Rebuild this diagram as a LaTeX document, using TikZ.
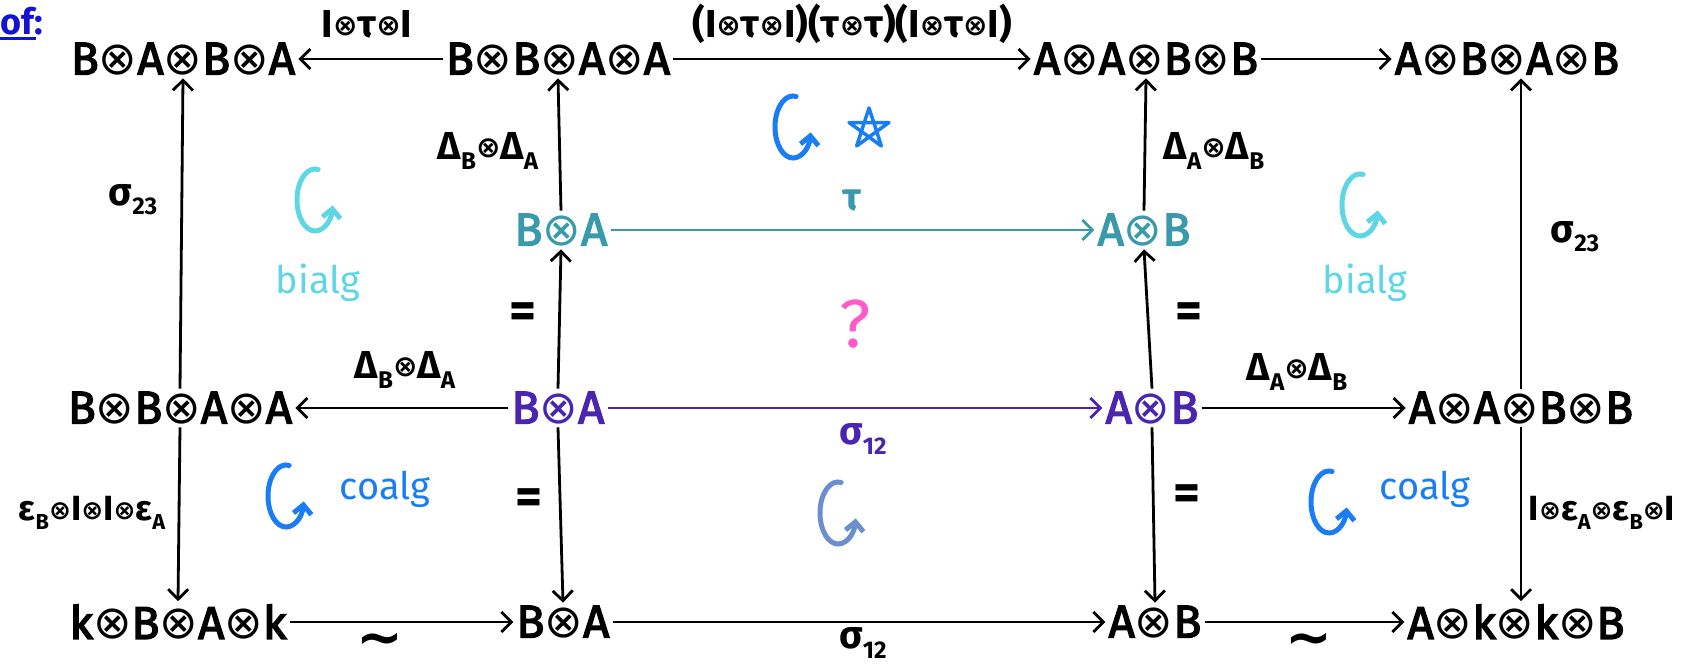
\documentclass[tikz,border=0pt]{standalone}
\usepackage{fontspec}
\setmainfont{Fira Sans}
\newfontfamily\objf{Fira Sans}[FakeBold=3]
\newfontfamily\dvf{DejaVu Sans}
\usetikzlibrary{arrows.meta,calc}
\newcommand{\ox}{{\dvf ⊗}}
\newcommand{\sox}{\raisebox{0.1ex}{\scalebox{0.75}{\dvf ⊗}}}
\newcommand{\lo}[1]{\raisebox{-0.45ex}{\scalebox{0.62}{#1}}}
\definecolor{tealc}{HTML}{3A9AAB}
\definecolor{purp}{HTML}{4A25B0}
\definecolor{cyanc}{HTML}{5ED6E6}
\definecolor{bluec}{HTML}{1A7DF5}
\definecolor{pinkc}{HTML}{FF5AC8}
\definecolor{slatec}{HTML}{6B8ECF}
\definecolor{ofblue}{HTML}{1414D0}
\tikzset{
  obj/.style={font=\objf\fontsize{46}{54}\selectfont, inner sep=3pt},
  lab/.style={font=\fontsize{39}{44}\selectfont\bfseries, inner sep=0pt},
  slab/.style={font=\fontsize{35}{40}\selectfont\bfseries, inner sep=0pt},
  big/.style={font=\fontsize{38}{44}\selectfont, inner sep=0pt},
  arr/.style={line width=2.8pt, -{Straight Barb[length=10pt,width=20pt]}},
  circarr/.style={line width=5pt, line cap=round, -{Straight Barb[length=9pt,width=18pt]}},
  eqs/.style={font=\fontsize{52}{56}\selectfont\bfseries, inner sep=0pt},
  tild/.style={font=\dvf\fontsize{56}{60}\selectfont\bfseries, inner sep=0pt}
}
\newcommand{\rotarrow}[3]{%
  \coordinate (#2) at #3;
  \draw[circarr,#1] ($(#2)+(80:18 and 31)$) arc[start angle=80,end angle=350,x radius=18,y radius=31];
}
\begin{document}
\begin{tikzpicture}[x=1pt,y=1pt]
\useasboundingbox (0,0) rectangle (1692,669);
% objects
\node[obj] (BABA) at (183,610) {B\ox A\ox B\ox A};
\node[obj] (BBAA1) at (558,610) {B\ox B\ox A\ox A};
\node[obj] (AABB1) at (1146,610) {A\ox A\ox B\ox B};
\node[obj] (ABAB) at (1507,610) {A\ox B\ox A\ox B};
\node[obj,text=tealc] (BAt) at (561,439) {B\ox A};
\node[obj,text=tealc] (ABt) at (1144,439) {A\ox B};
\node[obj] (BBAA2) at (180,261) {B\ox B\ox A\ox A};
\node[obj,text=purp] (BAp) at (558,261) {B\ox A};
\node[obj,text=purp] (ABp) at (1152,261) {A\ox B};
\node[obj] (AABB2) at (1521,261) {A\ox A\ox B\ox B};
\node[obj] (kBAk) at (178,47) {k\ox B\ox A\ox k};
\node[obj] (BA4) at (563,47) {B\ox A};
\node[obj] (AB4) at (1155,47) {A\ox B};
\node[obj] (AkkB) at (1516,47) {A\ox k\ox k\ox B};
% horizontal arrows
\draw[arr] (BBAA1) -- (BABA);
\draw[arr] (BBAA1) -- (AABB1);
\draw[arr] (AABB1) -- (ABAB);
\draw[arr,tealc] (BAt) -- (ABt);
\draw[arr] (BAp) -- (BBAA2);
\draw[arr,purp] (BAp) -- (ABp);
\draw[arr] (ABp) -- (AABB2);
\draw[arr] (kBAk) -- (BA4);
\draw[arr] (BA4) -- (AB4);
\draw[arr] (AB4) -- (AkkB);
% vertical arrows
\draw[arr] (BBAA2.north) -- (BABA.south);
\draw[arr] (BBAA2.south) -- (kBAk.north);
\draw[arr] (BAt.north) -- (BBAA1.south);
\draw[arr] (BAp.north) -- (BAt.south);
\draw[arr] (BAp.south) -- (BA4.north);
\draw[arr] (ABt.north) -- (AABB1.south);
\draw[arr] (ABp.north) -- (ABt.south);
\draw[arr] (ABp.south) -- (AB4.north);
\draw[arr] (AABB2.north) -- (AABB2.north |- ABAB.south);
\draw[arr] (AABB2.south) -- (AABB2.south |- AkkB.north);
% labels
\node[lab] (l1) at (367,645) {I\sox τ\sox I};
\node[lab] (l2) at (852,645) {(I\sox τ\sox I)(τ\sox τ)(I\sox τ\sox I)};
\node[lab] (l3) at (488,518) {Δ\lo{B}\sox Δ\lo{A}};
\node[lab] (l4) at (1214,518) {Δ\lo{A}\sox Δ\lo{B}};
\node[lab,text=tealc] (l5) at (852,469) {τ};
\node[lab] (l6) at (133,469) {σ\lo{23}};
\node[lab] (l7) at (1575,432) {σ\lo{23}};
\node[lab] (l8) at (405,299) {Δ\lo{B}\sox Δ\lo{A}};
\node[lab] (l9) at (1297,297) {Δ\lo{A}\sox Δ\lo{B}};
\node[lab,text=purp] (l10) at (863,230) {σ\lo{12}};
\node[slab] (l11) at (92,156) {ε\lo{B}\sox I\sox I\sox ε\lo{A}};
\node[slab] (l12) at (1602,156) {I\sox ε\lo{A}\sox ε\lo{B}\sox I};
\node[tild] (l13) at (380,24) {∼};
\node[lab] (l14) at (863,26) {σ\lo{12}};
\node[tild] (l15) at (1309,24) {∼};
% equals
\node[eqs] (e1) at (523,353) {=};
\node[eqs] (e2) at (529,167) {=};
\node[eqs] (e3) at (1189,353) {=};
\node[eqs] (e4) at (1187,171) {=};
% rotation arrows and annotations
\rotarrow{cyanc}{r1}{(315,469)}
\node[big,text=cyanc] (t1) at (318,386) {bialg};
\rotarrow{bluec}{r2}{(793,542)}
\coordinate (st) at (869,540);
\draw[bluec,line width=3.5pt,line join=round] (st) +(90:21) -- +(234:21) -- +(18:21) -- +(162:21) -- +(306:21) -- cycle;
\rotarrow{cyanc}{r3}{(1360,464)}
\node[big,text=cyanc] (t3) at (1365,386) {bialg};
\node[font=\fontsize{68}{72}\selectfont,text=pinkc,inner sep=0pt] (q) at (855,345) {?};
\rotarrow{bluec}{r4}{(286,173)}
\node[big,text=bluec] (t4) at (385,180) {coalg};
\rotarrow{slatec}{r5}{(838,156)}
\rotarrow{bluec}{r6}{(1329,167)}
\node[big,text=bluec] (t6) at (1425,180) {coalg};
% of:
\node[font=\fontsize{36}{40}\selectfont\bfseries,text=ofblue,inner sep=0pt] (of) at (22,648) {of:};
\draw[ofblue,line width=3pt] (of.south west) ++(0,-3) -- ++(36,0);
\end{tikzpicture}
\end{document}
